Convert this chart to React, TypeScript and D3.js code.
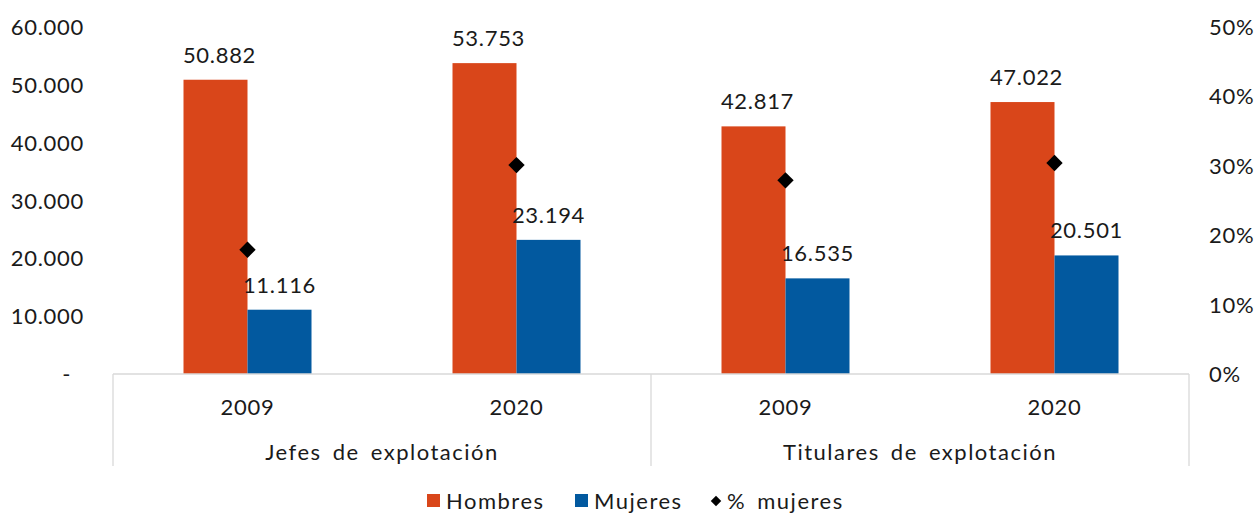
import React, { useEffect, useRef } from 'react';
import * as d3 from 'd3';

const groups = ['Jefes de explotación', 'Titulares de explotación'];
const years = ['2009', '2020'];
const hombres = [50882, 53753, 42817, 47022];
const mujeres = [11116, 23194, 16535, 20501];
const pctMujeres = [0.179, 0.301, 0.279, 0.304];
const leftTicks = [0, 10000, 20000, 30000, 40000, 50000, 60000];
const rightTicks = [0, 0.1, 0.2, 0.3, 0.4, 0.5];

const ORANGE = '#D9461A';
const BLUE = '#02599F';
const FONT = 'Lato, "Open Sans", sans-serif';
const INK = '#1a1a1a';

const fmtNum = (v: number) => (v === 0 ? '-' : d3.format(',')(v).replace(/,/g, '.'));

const App = () => {
    const svgRef = useRef<SVGSVGElement>(null);

    useEffect(() => {
        const svg = d3.select(svgRef.current);
        svg.selectAll('*').remove();

        const width = 1259;
        const height = 513;
        const left = 113;
        const right = 1189;
        const top = 27;
        const bottom = 374;

        const cats = groups.flatMap((g, gi) => years.map(y => `${gi}-${y}`));
        const x = d3.scaleBand().domain(cats).range([left, right]).padding(0);
        const xg = d3.scaleBand().domain(groups).range([left, right]).padding(0);
        const sub = d3.scaleBand().domain(['h', 'm']).range([0, 128]);
        const y = d3.scaleLinear().domain([0, 60000]).range([bottom, top]);
        const yr = d3.scaleLinear().domain([0, 0.5]).range([bottom, top]);

        svg.attr('width', width).attr('height', height).style('font-family', FONT);

        const numText = (sel: any) =>
            sel.style('font-size', '22px').style('letter-spacing', '0.7px').style('fill', INK);
        const wordText = (sel: any) =>
            sel.style('font-size', '22px')
                .style('letter-spacing', '1.5px')
                .style('word-spacing', '4px')
                .style('fill', INK);

        // left axis labels
        svg.append('g')
            .selectAll('text')
            .data(leftTicks)
            .enter()
            .append('text')
            .attr('x', d => (d === 0 ? 71 : 84))
            .attr('y', d => y(d) + 8)
            .attr('text-anchor', 'end')
            .call(numText)
            .text(fmtNum);

        // right axis labels
        svg.append('g')
            .selectAll('text')
            .data(rightTicks)
            .enter()
            .append('text')
            .attr('x', 1209)
            .attr('y', d => yr(d) + 8)
            .attr('text-anchor', 'start')
            .call(numText)
            .text(d => `${Math.round(d * 100)}%`);

        // bars
        const barG = svg.append('g');
        cats.forEach((c, i) => {
            const x0 = x(c)! + (x.bandwidth() - 128) / 2;
            barG.append('rect')
                .attr('x', x0 + sub('h')!)
                .attr('y', y(hombres[i]))
                .attr('width', sub.bandwidth())
                .attr('height', bottom - y(hombres[i]))
                .attr('fill', ORANGE);
            barG.append('rect')
                .attr('x', x0 + sub('m')!)
                .attr('y', y(mujeres[i]))
                .attr('width', sub.bandwidth())
                .attr('height', bottom - y(mujeres[i]))
                .attr('fill', BLUE);
            barG.append('text')
                .attr('x', x0 + sub('h')! + sub.bandwidth() / 2 + 4)
                .attr('y', y(hombres[i]) - 17)
                .attr('text-anchor', 'middle')
                .call(numText)
                .text(fmtNum(hombres[i]));
            barG.append('text')
                .attr('x', x0 + sub('m')! + sub.bandwidth() / 2)
                .attr('y', y(mujeres[i]) - 17)
                .attr('text-anchor', 'middle')
                .call(numText)
                .text(fmtNum(mujeres[i]));
        });

        // diamonds
        const diamond = d3.symbol().type(d3.symbolDiamond2).size(170);
        svg.append('g')
            .selectAll('path')
            .data(pctMujeres)
            .enter()
            .append('path')
            .attr('d', diamond)
            .attr('transform', (d, i) => `translate(${x(cats[i])! + x.bandwidth() / 2},${yr(d)})`)
            .attr('fill', '#000');

        // axis lines
        const axis = svg.append('g').attr('stroke', '#d9d9d9').attr('stroke-width', 1.3);
        axis.append('line').attr('x1', left).attr('x2', right).attr('y1', bottom).attr('y2', bottom);
        [left, xg(groups[1])!, right].forEach(px => {
            axis.append('line').attr('x1', px).attr('x2', px).attr('y1', bottom).attr('y2', 466);
        });

        // year labels
        svg.append('g')
            .selectAll('text')
            .data(cats)
            .enter()
            .append('text')
            .attr('x', d => x(d)! + x.bandwidth() / 2)
            .attr('y', 415)
            .attr('text-anchor', 'middle')
            .call(numText)
            .text(d => d.split('-')[1]);

        // group labels
        svg.append('g')
            .selectAll('text')
            .data(groups)
            .enter()
            .append('text')
            .attr('x', d => xg(d)! + xg.bandwidth() / 2)
            .attr('y', 460)
            .attr('text-anchor', 'middle')
            .call(wordText)
            .text(d => d);

        // legend
        const leg = svg.append('g');
        leg.append('rect').attr('x', 427).attr('y', 494).attr('width', 13).attr('height', 13).attr('fill', ORANGE);
        leg.append('text').attr('x', 446).attr('y', 509).call(wordText).text('Hombres');
        leg.append('rect').attr('x', 575).attr('y', 494).attr('width', 13).attr('height', 13).attr('fill', BLUE);
        leg.append('text').attr('x', 594).attr('y', 509).call(wordText).text('Mujeres');
        leg.append('path')
            .attr('d', d3.symbol().type(d3.symbolDiamond2).size(70))
            .attr('transform', 'translate(716,501)')
            .attr('fill', '#000');
        leg.append('text').attr('x', 727).attr('y', 509).call(wordText).text('% mujeres');
    }, []);

    return (
        <div style={{ position: 'absolute', left: 0, top: 0 }}>
            <svg ref={svgRef}></svg>
        </div>
    );
};

export default App;
